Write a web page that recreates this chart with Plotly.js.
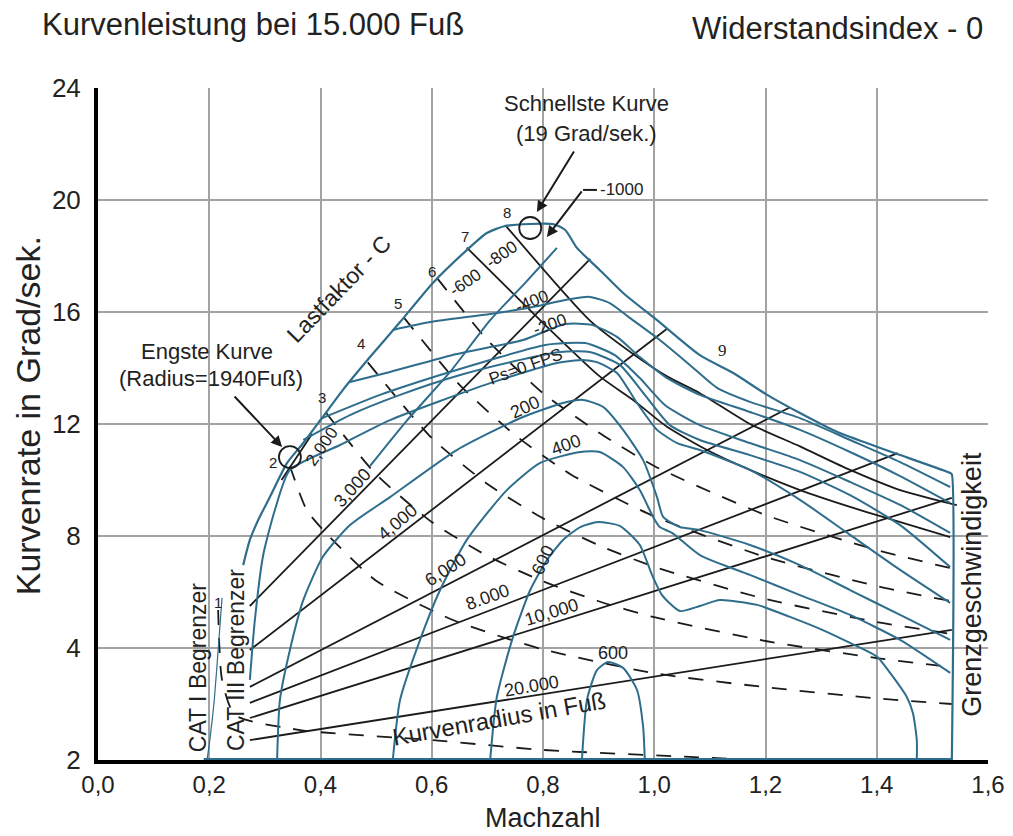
<!DOCTYPE html>
<html><head><meta charset="utf-8">
<script src="https://cdn.plot.ly/plotly-3.0.1.min.js"></script>
<style>html,body{margin:0;padding:0;background:#fff}#chart{width:1013px;height:836px}</style>
</head><body><div id="chart"></div>
<script>
// ---------- DATA (Mach number vs. turn rate in deg/s) ----------
const xTicks = [0,0.2,0.4,0.6,0.8,1.0,1.2,1.4,1.6];
const yTickVals = [0,4,8,12,16,20,24];
const yTickText = ['2','4','8','12','16','20','24'];

// outer envelope (lift limit + 9 g limit)
const envMach = [0.261,0.273,0.288,0.309,0.340,0.369,0.404,0.440,0.489,0.543,0.602,0.663,0.699,0.732,0.818,0.840,0.861,0.902,0.944,1.005,1.082,1.142,1.203,1.262,1.321,1.382,1.442,1.532,1.535,1.535];
const envRate = [6.96,7.86,8.57,9.39,10.61,11.32,12.25,13.21,14.39,15.64,17.04,18.21,18.82,19.07,19.14,18.93,18.29,17.5,16.68,15.71,14.46,13.82,13.04,12.39,11.79,11.32,10.89,10.25,10.2,0];
const baseMach = [0.19,1.535];
const baseRate = [0,0];

// specific excess power contours (Ps, ft/s)
const psM1000Mach = [0.489,0.556,0.633,0.705,0.768,0.825];
const psM1000Rate = [10.5,12.14,13.86,15.71,17.04,18.29];
const psM800Mach = [0.530,0.597,0.705,0.782,0.840,0.884,0.920,0.956,1.010,1.064,1.113,1.172,1.262,1.352,1.442,1.532];
const psM800Rate = [15.36,15.64,15.93,16.18,16.43,16.54,16.32,15.79,15.0,14.11,13.29,12.79,12.21,11.43,10.64,9.75];
const psM600Mach = [0.453,0.525,0.645,0.764,0.840,0.888,0.933,0.974,1.023,1.082,1.172,1.262,1.352,1.442,1.532];
const psM600Rate = [13.5,13.86,14.5,15.0,15.57,15.54,15.11,14.39,13.64,13.04,12.43,11.79,11.0,10.14,9.18];
const psM400Mach = [0.403,0.507,0.615,0.723,0.804,0.876,0.929,0.974,1.019,1.082,1.172,1.262,1.352,1.442,1.532];
const psM400Rate = [12.21,13.04,13.75,14.39,14.82,14.89,14.46,13.64,12.68,11.96,11.32,10.71,9.93,9.11,8.11];
const psM200Mach = [0.369,0.453,0.543,0.651,0.759,0.831,0.884,0.938,0.983,1.028,1.082,1.172,1.262,1.352,1.442,1.532];
const psM200Rate = [11.43,12.32,13.04,13.75,14.29,14.57,14.57,14.11,13.04,11.96,11.43,10.89,10.29,9.46,8.39,6.89];
const ps0Mach = [0.273,0.282,0.297,0.318,0.345,0.435,0.525,0.705,0.825,0.872,0.897,0.933,0.969,1.005,1.041,1.082,1.172,1.262,1.352,1.442,1.532];
const ps0Rate = [2.86,5.0,7.32,8.93,10.36,11.25,12.14,13.46,14.18,14.29,14.21,13.82,12.75,11.79,11.32,11.07,10.36,9.29,8.04,6.79,5.61];
const ps200Mach = [0.322,0.327,0.345,0.369,0.404,0.453,0.525,0.645,0.764,0.836,0.872,0.908,0.944,0.980,1.005,1.016,1.046,1.082,1.172,1.262,1.352,1.442,1.532];
const ps200Rate = [0,2.14,3.93,5.71,7.25,8.39,9.39,11.07,12.25,12.75,12.86,12.61,11.79,10.71,9.39,8.68,8.32,8.21,7.68,6.96,6.07,5.18,4.29];
const ps400Mach = [0.530,0.543,0.579,0.615,0.663,0.735,0.795,0.867,0.902,0.944,0.974,0.998,1.010,1.032,1.082,1.172,1.262,1.352,1.442,1.532];
const ps400Rate = [0,2.14,4.29,6.07,7.86,9.64,10.61,11.0,11.0,10.46,9.64,8.68,8.32,8.11,7.32,6.61,5.89,5.18,4.29,3.11];
const ps600Mach = [0.705,0.717,0.746,0.777,0.807,0.836,0.867,0.899,0.938,0.974,0.996,1.014,1.046,1.082,1.118,1.185,1.244,1.303,1.352,1.401,1.424,1.454,1.465,1.472,1.472];
const ps600Rate = [0,2.25,4.39,6.07,7.14,7.86,8.32,8.5,8.36,7.68,6.61,5.89,5.32,5.5,5.71,5.54,5.11,4.64,4.18,3.68,3.11,2.25,1.68,0.71,0];
const ps800Mach = [0.870,0.879,0.897,0.917,0.944,0.969,0.980,0.983];
const ps800Rate = [0,2.14,3.21,3.5,3.29,2.5,1.18,0];

// limiters
const cat1Mach = [0.223,0.216,0.209,0.201,0.196];
const cat1Rate = [5.79,3.93,2.14,0.71,0];

// load factor lines (dashed n = 1..6, solid n = 7, 8)
const n1Mach = [0.216,0.223,0.246,0.363,0.602,0.800,1.064,1.190];
const n1Rate = [5.36,2.86,1.61,1.07,0.71,0.36,0.11,0];
const n2Mach = [0.345,0.376,0.417,0.500,0.638,0.800,1.000,1.200,1.400,1.535];
const n2Rate = [10.5,8.9,7.96,6.4,5.0,3.95,3.1,2.6,2.2,2.0];
const n3Mach = [0.410,0.500,0.600,0.700,0.800,0.900,1.000,1.200,1.400,1.535];
const n3Rate = [12.4,10.2,8.5,7.29,6.38,5.67,5.1,4.25,3.64,3.32];
const n4Mach = [0.485,0.600,0.700,0.800,0.900,1.000,1.200,1.400,1.535];
const n4Rate = [14.2,11.5,9.86,8.63,7.67,6.9,5.75,4.93,4.5];
const n5Mach = [0.550,0.650,0.750,0.850,1.000,1.200,1.400,1.535];
const n5Rate = [15.8,13.4,11.6,10.2,8.7,7.25,6.21,5.67];
const n6Mach = [0.610,0.700,0.800,0.900,1.000,1.200,1.400,1.535];
const n6Rate = [17.2,15.0,13.1,11.7,10.5,8.75,7.5,6.84];
const n7Mach = [0.663,0.782,0.902,0.962,1.023,1.095,1.172,1.262,1.352,1.411,1.532];
const n7Rate = [18.3,15.96,13.7,12.86,11.9,11.07,10.36,9.64,9.04,8.68,7.96];
const n8Mach = [0.732,0.884,0.962,1.023,1.082,1.172,1.262,1.352,1.442,1.544];
const n8Rate = [19.1,15.7,14.5,13.7,13.1,12.0,11.2,10.36,9.64,9.1];

// turn radius lines (ft)
const r2000Mach = [0.330,0.385];  const r2000Rate = [10.0,11.65];
const r3000Mach = [0.273,0.885];  const r3000Rate = [5.5,17.9];
const r4000Mach = [0.273,1.023];  const r4000Rate = [3.93,15.4];
const r6000Mach = [0.273,1.244];  const r6000Rate = [2.61,12.6];
const r8000Mach = [0.273,1.438];  const r8000Rate = [2.04,10.96];
const r10000Mach = [0.273,1.535]; const r10000Rate = [1.5,9.36];
const r20000Mach = [0.273,1.535]; const r20000Rate = [0.71,4.65];

// marked points
const markMach = [0.345,0.777];
const markRate = [10.82,19.0];

// ---------- STYLE ----------
const BLUE = '#2f6d8c', BLACK = '#1b1b1b';
const FONT = 'Liberation Sans, Arial, sans-serif';
const DASH = '15px,13px';
function line(x,y,color,width,dash){
  return {x:x,y:y,type:'scatter',mode:'lines',hoverinfo:'skip',showlegend:false,
    line:{color:color,width:width,dash:dash||'solid',shape:'spline',smoothing:0.6}};
}
function straight(x,y){ return {x:x,y:y,type:'scatter',mode:'lines',hoverinfo:'skip',showlegend:false,line:{color:BLACK,width:1.8}}; }

const traces = [
  line(n1Mach,n1Rate,BLACK,1.8,DASH),
  line(n2Mach,n2Rate,BLACK,1.8,DASH),
  line(n3Mach,n3Rate,BLACK,1.8,DASH),
  line(n4Mach,n4Rate,BLACK,1.8,DASH),
  line(n5Mach,n5Rate,BLACK,1.8,DASH),
  line(n6Mach,n6Rate,BLACK,1.8,DASH),
  line(n7Mach,n7Rate,BLACK,1.8),
  line(n8Mach,n8Rate,BLACK,1.8),
  straight(r2000Mach,r2000Rate),
  straight(r3000Mach,r3000Rate),
  straight(r4000Mach,r4000Rate),
  straight(r6000Mach,r6000Rate),
  straight(r8000Mach,r8000Rate),
  straight(r10000Mach,r10000Rate),
  straight(r20000Mach,r20000Rate),
  line(psM1000Mach,psM1000Rate,BLUE,2),
  line(psM800Mach,psM800Rate,BLUE,2),
  line(psM600Mach,psM600Rate,BLUE,2),
  line(psM400Mach,psM400Rate,BLUE,2),
  line(psM200Mach,psM200Rate,BLUE,2),
  line(ps0Mach,ps0Rate,BLUE,2),
  line(ps200Mach,ps200Rate,BLUE,2),
  line(ps400Mach,ps400Rate,BLUE,2),
  line(ps600Mach,ps600Rate,BLUE,2),
  line(ps800Mach,ps800Rate,BLUE,2),
  line(cat1Mach,cat1Rate,BLUE,1.2),
  line(envMach,envRate,BLUE,2.2),
  {x:baseMach,y:baseRate,type:'scatter',mode:'lines',hoverinfo:'skip',showlegend:false,line:{color:BLUE,width:4}},
  {x:markMach,y:markRate,type:'scatter',mode:'markers',hoverinfo:'skip',showlegend:false,
   marker:{symbol:'circle-open',size:22,color:BLACK,line:{width:1.8,color:BLACK}}}
];

function lbl(x,y,text,size,angle,extra){
  return Object.assign({x:x,y:y,xref:'x',yref:'y',text:text,showarrow:false,textangle:angle||0,
    font:{family:FONT,size:size,color:'#222'}},extra||{});
}
function arrow(x,y,ax,ay){
  return {x:x,y:y,xref:'x',yref:'y',ax:ax,ay:ay,text:'',showarrow:true,arrowhead:2,arrowsize:1.1,arrowwidth:2,arrowcolor:BLACK};
}
const annotations = [
  {xref:'paper',yref:'paper',x:-0.065,y:1.094,xanchor:'left',yanchor:'middle',showarrow:false,
   text:'Kurvenleistung bei 15.000 Fuß',font:{family:FONT,size:31,color:'#222'}},
  {xref:'paper',yref:'paper',x:0.9966,y:1.089,xanchor:'right',yanchor:'middle',showarrow:false,
   text:'Widerstandsindex - 0',font:{family:FONT,size:31,color:'#222'}},
  {xref:'paper',yref:'paper',x:-0.0787,y:0.513,xanchor:'center',yanchor:'middle',showarrow:false,textangle:-90,
   text:'Kurvenrate in Grad/sek.',font:{family:FONT,size:34,color:'#222'}},
  {xref:'paper',yref:'paper',x:0.5,y:-0.087,xanchor:'center',yanchor:'middle',showarrow:false,
   text:'Machzahl',font:{family:FONT,size:27,color:'#222'}},
  lbl(0.879,23.46,'Schnellste Kurve',22),
  lbl(0.879,22.39,'(19 Grad/sek.)',22),
  lbl(0.196,14.6,'Engste Kurve',22),
  lbl(0.203,13.64,'(Radius=1940Fuß)',22),
  arrow(0.331,11.18,-49,-52),
  arrow(0.789,19.57,38,-62),
  arrow(0.807,18.68,36,-47),
  lbl(0.935,20.36,'-1000',17,0,{xanchor:'left',x:0.898}),
  lbl(0.433,16.82,'Lastfaktor - C',23,-46),
  lbl(0.216,5.61,'1',15), lbl(0.315,10.64,'2',15), lbl(0.403,12.96,'3',15), lbl(0.473,14.89,'4',15),
  lbl(0.539,16.32,'5',15), lbl(0.600,17.43,'6',15), lbl(0.660,18.68,'7',15), lbl(0.735,19.54,'8',15),
  {x:1.122,y:14.64,xref:'x',yref:'y',text:'9',showarrow:false,font:{family:'Liberation Serif, serif',size:17,color:'#222'}},
  lbl(0.403,11.18,'2,000',17,-55),
  lbl(0.457,9.71,'3,000',18,-48),
  lbl(0.539,8.5,'4,000',18,-40),
  lbl(0.624,6.79,'6,000',18,-33),
  lbl(0.701,5.82,'8.000',18,-20),
  lbl(0.816,5.29,'10,000',18,-17),
  lbl(0.780,2.64,'20.000',18,-10),
  lbl(0.660,17.07,'-600',17,-35),
  lbl(0.726,18.04,'-800',17,-35),
  lbl(0.780,16.36,'-400',17,-22),
  lbl(0.813,15.54,'-200',17,-20),
  lbl(0.769,14.07,'Ps=0 FPS',17,-20),
  lbl(0.768,12.6,'200',18,-25),
  lbl(0.841,11.25,'400',18,-20),
  lbl(0.800,7.14,'600',18,-65),
  lbl(0.926,3.82,'600',18,0),
  lbl(0.180,3.32,'CAT I Begrenzer',23,-90),
  lbl(0.248,3.57,'CAT III Begrenzer',23,-90),
  lbl(1.571,6.29,'Grenzgeschwindigkeit',27,-90),
  lbl(0.721,1.5,'Kurvenradius in Fuß',24,-10)
];

const shapes = [
  {type:'line',xref:'x',yref:'y',x0:0.872,x1:0.897,y0:20.36,y1:20.36,line:{color:BLACK,width:2}}
];

const layout = {
  width:1013,height:836,
  margin:{l:98,r:25,t:88,b:76,pad:0},
  paper_bgcolor:'#fff',plot_bgcolor:'#fff',
  separators:',.',
  font:{family:FONT,color:'#222'},
  showlegend:false,
  xaxis:{range:[0,1.6],tickvals:xTicks,tickformat:'.1f',showgrid:true,gridcolor:'#a3a3a3',gridwidth:2,
    showline:true,linecolor:'#000',linewidth:4,zeroline:false,ticks:'',ticklabelstandoff:0,
    tickfont:{family:FONT,size:24,color:'#222'},fixedrange:true},
  yaxis:{range:[0,24],tickvals:yTickVals,ticktext:yTickText,showgrid:true,gridcolor:'#a3a3a3',gridwidth:2,
    showline:true,linecolor:'#000',linewidth:4,zeroline:false,ticks:'',ticklabelstandoff:8,
    tickfont:{family:FONT,size:26,color:'#222'},fixedrange:true},
  annotations:annotations,
  shapes:shapes
};
Plotly.newPlot('chart',traces,layout,{staticPlot:true,displayModeBar:false});
</script></body></html>
